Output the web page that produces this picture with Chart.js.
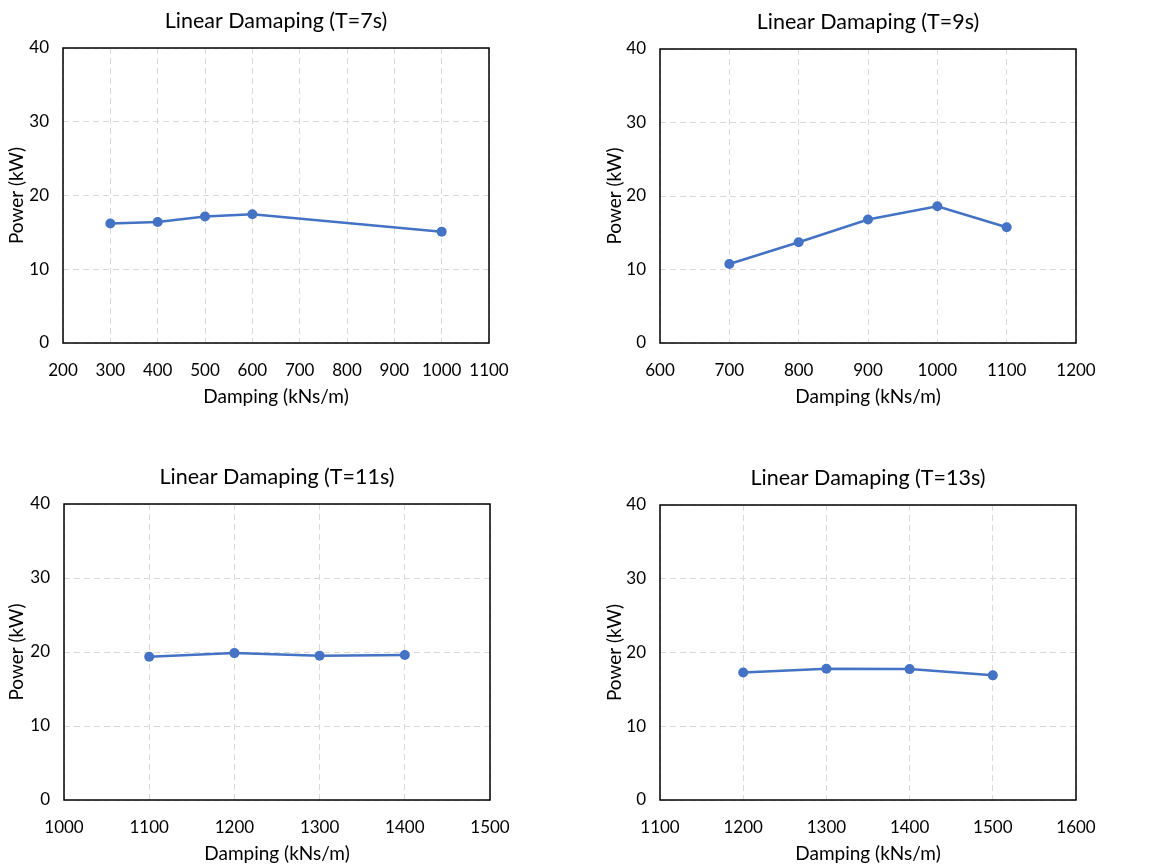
<!DOCTYPE html>
<html>
<head>
<meta charset="utf-8">
<script src="https://cdn.jsdelivr.net/npm/chart.js@4"></script>
<style>
    html, body { margin: 0; padding: 0; background: #fff; overflow: hidden; }
    .panel { position: absolute; }
</style>
</head>
<body>
<div class="panel" style="left:0;top:0;width:580px;height:420px"><canvas id="c1"></canvas></div>
<div class="panel" style="left:580px;top:0;width:594px;height:420px"><canvas id="c2"></canvas></div>
<div class="panel" style="left:0;top:440px;width:580px;height:427px"><canvas id="c3"></canvas></div>
<div class="panel" style="left:580px;top:440px;width:594px;height:427px"><canvas id="c4"></canvas></div>
<script>
// damping (kNs/m) vs power (kW) for each wave period
const damping7 = [300, 400, 500, 600, 1000];
const power7 = [16.2, 16.4, 17.15, 17.45, 15.1];

const damping9 = [700, 800, 900, 1000, 1100];
const power9 = [10.75, 13.7, 16.8, 18.6, 15.75];

const damping11 = [1100, 1200, 1300, 1400];
const power11 = [19.35, 19.85, 19.5, 19.6];

const damping13 = [1200, 1300, 1400, 1500];
const power13 = [17.3, 17.8, 17.75, 16.9];

const titles = ['Linear Damaping (T=7s)', 'Linear Damaping (T=9s)', 'Linear Damaping (T=11s)', 'Linear Damaping (T=13s)'];
const xRanges = [[200, 1100], [600, 1200], [1000, 1500], [1100, 1600]];

const FONT = 'Lato, "Open Sans", sans-serif';
const LINE_COLOR = '#4472C4';
const GRID_COLOR = '#d9d9d9';

// frame round the plot area + title centred over the plot (Excel style)
const boxPlugin = {
    id: 'box',
    afterDraw(chart, args, opts) {
        const {ctx, chartArea: a} = chart;
        ctx.save();
        ctx.strokeStyle = '#000';
        ctx.lineWidth = 1.5;
        ctx.strokeRect(a.left, a.top, a.right - a.left, a.bottom - a.top);

        ctx.fillStyle = '#000';
        ctx.font = '21.5px ' + FONT;
        ctx.textAlign = 'center';
        ctx.textBaseline = 'middle';
        ctx.fillText(opts.text, (a.left + a.right) / 2, a.top - 27);
        ctx.restore();
    }
};

function makeChart(id, xs, ys, title, range, opts) {
    const ctx = document.getElementById(id);
    return new Chart(ctx, {
        type: 'line',
        data: {
            datasets: [{
                data: xs.map((x, i) => ({x, y: ys[i]})),
                borderColor: LINE_COLOR,
                backgroundColor: LINE_COLOR,
                borderWidth: 2.5,
                pointRadius: 5,
                pointBorderWidth: 0,
                tension: 0,
            }]
        },
        options: {
            responsive: true,
            maintainAspectRatio: false,
            animation: false,
            layout: {padding: {left: 0, right: opts.right, top: opts.top, bottom: opts.bottom}},
            plugins: {
                legend: {display: false},
                tooltip: {enabled: false},
                title: {display: false},
                box: {text: title},
            },
            scales: {
                x: {
                    type: 'linear',
                    min: range[0],
                    max: range[1],
                    ticks: {
                        stepSize: 100,
                        color: '#000',
                        padding: 17,
                        maxRotation: 0,
                        font: {family: FONT, size: 17},
                        callback: v => String(v),
                    },
                    grid: {color: GRID_COLOR, drawTicks: false},
                    border: {display: false, dash: [6, 4]},
                    title: {
                        display: true,
                        text: 'Damping (kNs/m)',
                        color: '#000',
                        font: {family: FONT, size: 19},
                        padding: 0,
                    },
                    afterFit: s => { s.height = 65; },
                },
                y: {
                    min: 0,
                    max: 40,
                    ticks: {
                        stepSize: 10,
                        color: '#000',
                        padding: 14,
                        font: {family: FONT, size: 17},
                    },
                    grid: {color: GRID_COLOR, drawTicks: false},
                    border: {display: false, dash: [6, 4]},
                    title: {
                        display: true,
                        text: 'Power (kW)',
                        color: '#000',
                        font: {family: FONT, size: 19},
                        padding: {top: opts.yTitlePad, bottom: 0},
                    },
                    afterFit: s => { s.width = opts.yWidth; },
                },
            },
        },
        plugins: [boxPlugin],
    });
}

makeChart('c1', damping7, power7, titles[0], xRanges[0], {right: 91, top: 48, bottom: 12, yWidth: 63, yTitlePad: 5});
makeChart('c2', damping9, power9, titles[1], xRanges[1], {right: 98, top: 49, bottom: 12, yWidth: 80, yTitlePad: 23});
makeChart('c3', damping11, power11, titles[2], xRanges[2], {right: 90, top: 64, bottom: 2, yWidth: 64, yTitlePad: 5});
makeChart('c4', damping13, power13, titles[3], xRanges[3], {right: 98, top: 65, bottom: 2, yWidth: 80, yTitlePad: 23});
</script>
</body>
</html>
